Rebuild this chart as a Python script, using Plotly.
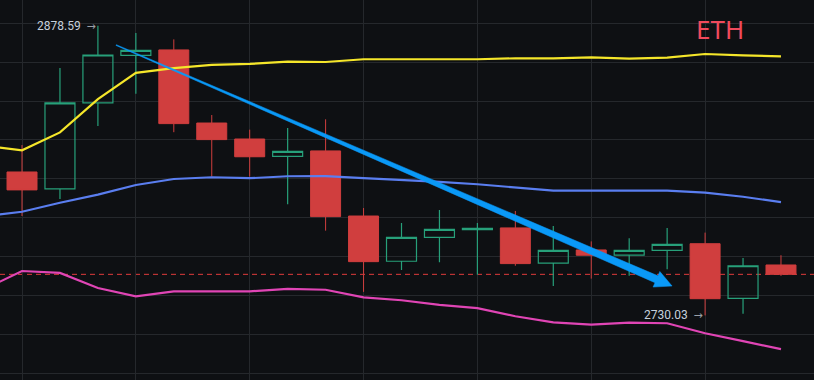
import numpy as np
import plotly.graph_objects as go

# ---------------- data ----------------
candle_idx = list(range(21))
open_ = [2803.6, 2794.9, 2839.0, 2863.4, 2866.2, 2828.7, 2820.5, 2811.6, 2814.4, 2781.0,
         2757.8, 2770.1, 2774.0, 2774.9, 2756.8, 2763.6, 2760.9, 2763.4, 2766.8, 2738.8, 2755.9]
high_ = [2817.4, 2856.9, 2878.59, 2874.9, 2871.6, 2832.8, 2825.3, 2826.2, 2830.6, 2785.1,
         2777.4, 2784.1, 2777.4, 2783.6, 2775.9, 2768.0, 2769.6, 2774.9, 2772.5, 2759.5, 2760.9]
low_ = [2781.0, 2789.7, 2827.2, 2843.7, 2824.0, 2801.2, 2801.2, 2787.0, 2773.5, 2742.1,
        2753.3, 2757.3, 2750.9, 2755.5, 2745.1, 2748.9, 2750.4, 2753.7, 2730.03, 2730.9, 2750.3]
close_ = [2794.4, 2839.0, 2863.6, 2866.0, 2828.4, 2820.2, 2811.4, 2814.2, 2780.7, 2757.6,
          2770.1, 2774.2, 2774.7, 2756.6, 2763.4, 2760.9, 2763.4, 2766.5, 2738.6, 2755.5, 2751.1]

band_idx = list(range(-1, 21))
upper_band = [2817.0, 2814.7, 2823.9, 2841.0, 2854.4, 2856.9, 2858.5, 2859.0, 2860.2, 2860.0, 2861.4,
              2861.4, 2861.4, 2861.4, 2861.9, 2861.9, 2862.4, 2861.7, 2862.2, 2864.1, 2863.4, 2862.9]
middle_band = [2780.9, 2783.2, 2787.8, 2792.0, 2796.9, 2800.0, 2800.9, 2800.4, 2801.4, 2801.5, 2800.4,
               2799.5, 2798.5, 2797.3, 2795.7, 2794.0, 2794.0, 2794.0, 2794.0, 2793.0, 2790.9, 2788.1]
lower_band = [2743.4, 2752.8, 2751.8, 2744.1, 2739.8, 2742.4, 2742.4, 2742.4, 2743.6, 2743.2, 2739.3,
              2737.8, 2735.4, 2733.8, 2729.6, 2726.5, 2725.3, 2726.3, 2726.0, 2720.9, 2716.8, 2712.7]

last_price = 2751.1
arrow_start = (2.48, 2868.7)
arrow_end = (17.13, 2745.1)
high_label = (2, 2878.59)
low_label = (18, 2730.03)
title_text = "ETH"

# ---------------- style ----------------
W, H = 814, 380
BG = "#0e1013"
GRID = "#25282c"
RED = "#d03e3e"
GREEN = "#27a07a"
x_range = [-0.58, 20.87]
y_range = [2696.9, 2891.8]

fig = go.Figure()

fig.add_trace(go.Candlestick(
    x=candle_idx, open=open_, high=high_, low=low_, close=close_,
    increasing=dict(line=dict(color=GREEN, width=1.2), fillcolor="rgba(0,0,0,0)"),
    decreasing=dict(line=dict(color=RED, width=1), fillcolor=RED),
    whiskerwidth=0, showlegend=False, hoverinfo="skip",
))

for vals, col in [(upper_band, "#f5e62a"), (middle_band, "#5a7ef0"), (lower_band, "#e045b5")]:
    fig.add_trace(go.Scatter(x=band_idx, y=vals, mode="lines",
                             line=dict(color=col, width=2.2), showlegend=False, hoverinfo="skip"))

# tapered arrow built in pixel space
pxx = W / (x_range[1] - x_range[0])
pxy = H / (y_range[1] - y_range[0])
s = np.array([arrow_start[0] * pxx, arrow_start[1] * pxy])
e = np.array([arrow_end[0] * pxx, arrow_end[1] * pxy])
d = e - s
L = np.hypot(*d)
u = d / L
n = np.array([-u[1], u[0]])
head_len, head_half = 17.0, 8.5
w0, wb = 0.8, 7.5
b = e - u * head_len
pts = [s + n * w0 / 2, b + n * wb / 2, b + n * head_half, e,
       b - n * head_half, b - n * wb / 2, s - n * w0 / 2, s + n * w0 / 2]
ax_ = [p[0] / pxx for p in pts]
ay_ = [p[1] / pxy for p in pts]
fig.add_trace(go.Scatter(x=ax_, y=ay_, mode="lines", fill="toself",
                         fillcolor="#0a99f7", line=dict(color="#0a99f7", width=0.5),
                         showlegend=False, hoverinfo="skip"))

fig.add_shape(type="line", xref="paper", x0=0, x1=1, yref="y", y0=last_price, y1=last_price,
              line=dict(color="#e03c3c", width=1, dash="5px,4px"), layer="between")

for (xi, yv) in [high_label, low_label]:
    fig.add_annotation(x=xi, y=yv, xref="x", yref="y",
                       text=(f"{yv:.2f}&nbsp; <span style='color:#9a9fa6;font-family:DejaVu Sans;"
                             f"font-size:11px'>→</span>"),
                       showarrow=False, xanchor="right", yanchor="middle", xshift=0,
                       font=dict(family="Roboto", size=12, color="#c6d0dc"))

fig.add_annotation(x=720 / W, y=1 - 29 / H, xref="paper", yref="paper", text=title_text,
                   showarrow=False, xanchor="center", yanchor="middle",
                   font=dict(family="Noto Sans", size=26, color="#ef4a5c"))

fig.update_layout(
    width=W, height=H, margin=dict(l=0, r=0, t=0, b=0),
    paper_bgcolor=BG, plot_bgcolor=BG, boxgap=0.21, boxgroupgap=0,
    showlegend=False, hovermode=False,
    xaxis=dict(range=x_range, dtick=3, tick0=0, showgrid=True, gridcolor=GRID, gridwidth=1,
               showticklabels=False, zeroline=False, showline=False, ticks="",
               rangeslider=dict(visible=False), fixedrange=True),
    yaxis=dict(range=y_range, dtick=20, tick0=0, showgrid=True, gridcolor=GRID, gridwidth=1,
               showticklabels=False, zeroline=False, showline=False, ticks="", fixedrange=True),
)

fig.write_html("out.html", config={"displayModeBar": False},
               post_script="document.body.style.margin='0';document.body.style.background='#0e1013';")
